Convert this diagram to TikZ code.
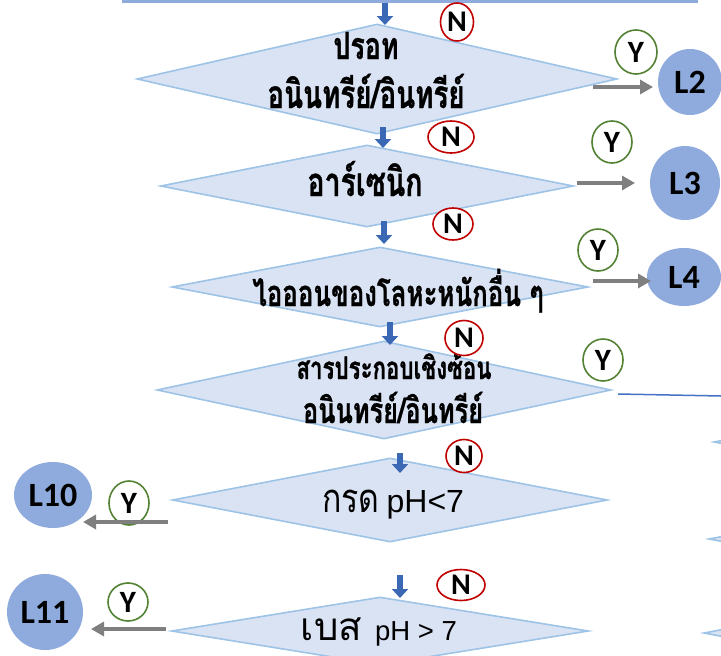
\documentclass[tikz,border=0pt]{standalone}
\usepackage{fontspec}
\usepackage{graphicx}
\setmainfont{Carlito}
\newfontfamily\thai[Script=Thai,BoldFeatures={FakeBold=1}]{Loma}
\newfontfamily\arialf{Liberation Sans}
\usetikzlibrary{shapes.geometric,arrows.meta}
\definecolor{dfill}{HTML}{DAE3F3}
\definecolor{dline}{HTML}{9DC3E6}
\definecolor{lfill}{HTML}{8FAADC}
\definecolor{barr}{HTML}{3B68B5}
\definecolor{garr}{HTML}{7F7F7F}
\definecolor{nred}{HTML}{C00000}
\definecolor{ygreen}{HTML}{548235}
\definecolor{lineblue}{HTML}{4472C4}
\newcommand{\thtxt}[2]{\resizebox{#1pt}{!}{\scalebox{1}[1.4]{\thai\bfseries #2}}}
\tikzset{
  dia/.style={diamond, draw=dline, fill=dfill, line width=1.6pt, inner sep=0pt},
  ttext/.style={anchor=base, inner sep=0pt},
  ncirc/.style={ellipse, draw=nred, fill=white, line width=1.6pt, inner sep=0pt, font=\fontsize{30}{30}\selectfont\bfseries},
  ycirc/.style={ellipse, draw=ygreen, fill=white, line width=1.6pt, inner sep=0pt, font=\fontsize{31}{31}\selectfont\bfseries},
  lcirc/.style={ellipse, fill=lfill, inner sep=0pt, font=\fontsize{34}{34}\selectfont\bfseries},
  blockarr/.style={draw=barr, line width=6pt, -{Triangle[width=16pt,length=9pt]}},
  grayarr/.style={draw=garr, line width=4.5pt, -{Triangle[width=14pt,length=13pt]}},
}
\begin{document}
\begin{tikzpicture}[x=1pt,y=-1pt]
\useasboundingbox (0,0) rectangle (721,656);
\clip (0,0) rectangle (721,656);

% top bar (bottom edge of the box above)
\draw[draw=lfill, line width=3pt] (122,1) coordinate (tbl) -- (698,1) coordinate (tbr);

% right column diamonds (only their left tips visible)
\node[dia, minimum width=420pt, minimum height=80pt, anchor=west] (r1) at (713,442) {};
\node[dia, minimum width=420pt, minimum height=80pt, anchor=west] (r2) at (708,539) {};
\node[dia, minimum width=420pt, minimum height=80pt, anchor=west] (r3) at (703,633) {};

% diamonds
\node[dia, minimum width=480pt, minimum height=110pt] (d1) at (377,79) {};
\node[dia, minimum width=413pt, minimum height=82pt] (d2) at (367,186) {};
\node[dia, minimum width=416pt, minimum height=80pt] (d3) at (380,287) {};
\node[dia, minimum width=454pt, minimum height=98pt] (d4) at (384,390) {};
\node[dia, minimum width=435pt, minimum height=84pt] (d5) at (390,500) {};
\node[dia, minimum width=417pt, minimum height=68pt] (d6) at (380,631) {};

% texts
\node[ttext] (t1a) at (366,59) {\thtxt{65}{ปรอท}};
\node[ttext] (t1b) at (366,108) {\thtxt{197}{อนินทรีย์/อินทรีย์}};
\node[ttext] (t2) at (365,196) {\thtxt{115}{อาร์เซนิก}};
\node[ttext] (t3) at (398,306) {\thtxt{291}{ไอออนของโลหะหนักอื่น ๆ}};
\node[ttext] (t4a) at (394,379) {\thtxt{195}{สารประกอบเชิงซ้อน}};
\node[ttext] (t4b) at (393,423) {\thtxt{180}{อนินทรีย์/อินทรีย์}};
\node[ttext] (t5) at (393,512) {\resizebox{142pt}{!}{\fontsize{28}{28}\selectfont\scalebox{1}[1.25]{\thai กรด} \arialf pH<7}};
\node[ttext] (t6) at (379,640) {\resizebox{156pt}{!}{\fontsize{28}{28}\selectfont\thai เบส \fontsize{20}{20}\selectfont\arialf pH > 7}};

% blue block arrows
\coordinate (a1s) at (385,3);   \coordinate (a1e) at (385,25);
\coordinate (a2s) at (383,127); \coordinate (a2e) at (383,148);
\coordinate (a3s) at (384,221); \coordinate (a3e) at (384,244);
\coordinate (a4s) at (390,322); \coordinate (a4e) at (390,345);
\coordinate (a5s) at (400,453); \coordinate (a5e) at (400,473);
\coordinate (a6s) at (400,575); \coordinate (a6e) at (400,598);
\draw[blockarr] (a1s) -- (a1e);
\draw[blockarr] (a2s) -- (a2e);
\draw[blockarr] (a3s) -- (a3e);
\draw[blockarr] (a4s) -- (a4e);
\draw[blockarr] (a5s) -- (a5e);
\draw[blockarr] (a6s) -- (a6e);

% N circles
\node[ncirc, minimum width=33pt, minimum height=38pt] (n1) at (457,22) {N};
\node[ncirc, minimum width=46pt, minimum height=32pt] (n2) at (451,137) {N};
\node[ncirc, minimum width=40pt, minimum height=32pt] (n3) at (453,224) {N};
\node[ncirc, minimum width=38pt, minimum height=35pt] (n4) at (464,338) {N};
\node[ncirc, minimum width=36pt, minimum height=33pt] (n5) at (464,456) {N};
\node[ncirc, minimum width=48pt, minimum height=31pt] (n6) at (461,585) {N};

% Y circles
\node[ycirc, minimum width=42pt, minimum height=44pt] (y1) at (636,52) {Y};
\node[ycirc, minimum width=40pt, minimum height=42pt] (y2) at (612,142) {Y};
\node[ycirc, minimum width=40pt, minimum height=42pt] (y3) at (598,250) {Y};
\node[ycirc, minimum width=40pt, minimum height=42pt] (y4) at (603,360) {Y};
\node[ycirc, minimum width=40pt, minimum height=44pt] (y5) at (129,503) {Y};
\node[ycirc, minimum width=40pt, minimum height=38pt] (y6) at (128,602) {Y};

% L circles
\node[lcirc, minimum width=64pt, minimum height=66pt] (L2) at (690,82) {L2};
\node[lcirc, minimum width=70pt, minimum height=74pt] (L3) at (685,183) {L3};
\node[lcirc, minimum width=74pt, minimum height=58pt] (L4) at (684,277) {L4};
\node[lcirc, minimum width=78pt, minimum height=66pt] (L10) at (53,495) {L10};
\node[lcirc, minimum width=76pt, minimum height=76pt] (L11) at (45,612) {L11};

% gray arrows
\coordinate (g2s) at (593,87);  \coordinate (g2e) at (653,87);
\coordinate (g3s) at (577,183); \coordinate (g3e) at (635,183);
\coordinate (g4s) at (593,281); \coordinate (g4e) at (651,281);
\coordinate (g10s) at (168,522); \coordinate (g10e) at (83,522);
\coordinate (g11s) at (166,629); \coordinate (g11e) at (91,629);
\draw[grayarr] (g2s) -- (g2e);
\draw[grayarr] (g3s) -- (g3e);
\draw[grayarr] (g4s) -- (g4e);
\draw[grayarr] (g10s) -- (g10e);
\draw[grayarr] (g11s) -- (g11e);

% blue connector from complex-compound diamond
\coordinate (b4s) at (618,394); \coordinate (b4e) at (721,396);
\draw[draw=lineblue, line width=1.5pt] (b4s) -- (b4e);
\end{tikzpicture}
\end{document}
